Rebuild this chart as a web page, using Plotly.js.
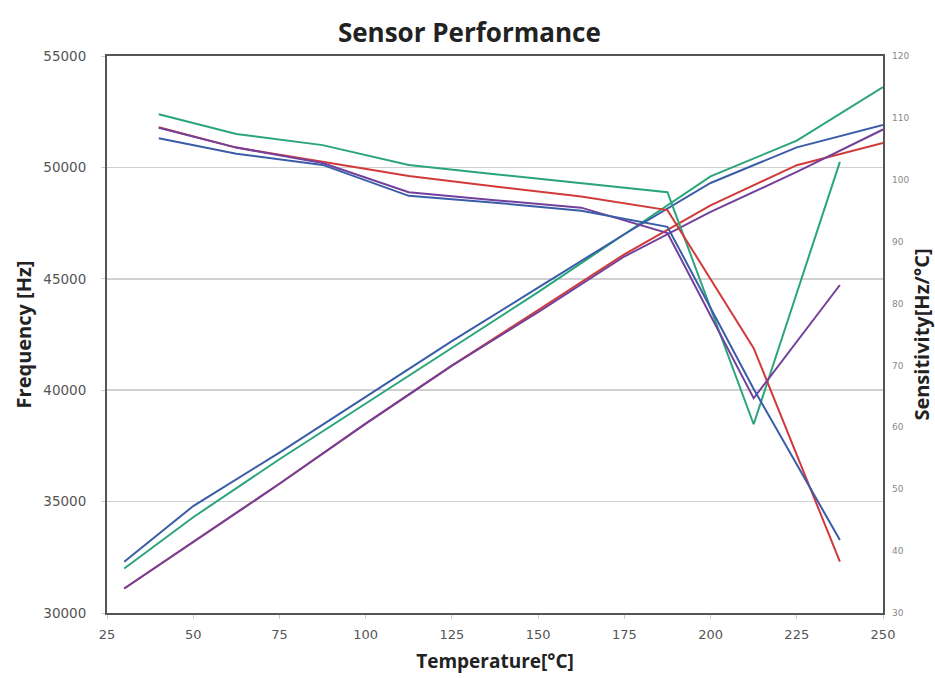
<!DOCTYPE html>
<html>
<head>
<meta charset="utf-8">
<script src="https://cdn.plot.ly/plotly-3.0.1.min.js"></script>
<style>html,body{margin:0;padding:0;background:#fff;}#chart{width:935px;height:678px;}</style>
</head>
<body>
<div id="chart"></div>
<script>
// Frequency (left axis) vs temperature
var tempFreq = [30, 50, 75, 100, 125, 150, 175, 200, 225, 250];
var freqBlue   = [32300, 34800, 37200, 39700, 42200, 44600, 47000, 49300, 50900, 51900];
var freqGreen  = [32000, 34300, 36900, 39400, 41900, 44400, 47000, 49600, 51200, 53600];
var freqPurple = [31100, 33200, 35800, 38500, 41100, 43500, 46000, 48000, 49800, 51700];
var freqRed    = [31100, 33200, 35800, 38500, 41100, 43600, 46100, 48300, 50100, 51100];

// Sensitivity (right axis) vs temperature
var tempSens = [40, 62.5, 87.5, 112.5, 137.5, 162.5, 187.5, 212.5, 237.5];
var sensGreen  = [110.6, 107.4, 105.6, 102.4, 100.9, 99.5, 98.0, 60.5, 102.9];
var sensRed    = [108.5, 105.2, 102.9, 100.6, 98.9, 97.3, 95.1, 72.8, 38.3];
var sensPurple = [108.4, 105.2, 102.7, 98.0, 96.7, 95.5, 91.4, 64.7, 83.0];
var sensBlue   = [106.7, 104.2, 102.4, 97.4, 96.3, 95.0, 92.4, 66.2, 41.8];

var colBlue = '#3a5da8', colGreen = '#2aa57a', colRed = '#d23a3a', colPurple = '#73409c';

function tr(x, y, c, axis) {
  return {x: x, y: y, type: 'scatter', mode: 'lines', yaxis: axis,
          line: {color: c, width: 2}, hoverinfo: 'x+y', showlegend: false};
}

var data = [
  tr(tempFreq, freqRed, colRed, 'y'),
  tr(tempFreq, freqPurple, colPurple, 'y'),
  tr(tempFreq, freqGreen, colGreen, 'y'),
  tr(tempFreq, freqBlue, colBlue, 'y'),
  tr(tempSens, sensGreen, colGreen, 'y2'),
  tr(tempSens, sensRed, colRed, 'y2'),
  tr(tempSens, sensPurple, colPurple, 'y2'),
  tr(tempSens, sensBlue, colBlue, 'y2')
];

var titleFont = 'Open Sans, sans-serif';
var layout = {
  width: 935, height: 678,
  margin: {l: 107, r: 52, t: 56, b: 65},
  paper_bgcolor: '#fff', plot_bgcolor: '#fff',
  font: {family: 'DejaVu Sans, sans-serif', color: '#444'},
  title: {text: '<b>Sensor Performance</b>', x: 0.502, xref: 'container', y: 0.952, yref: 'container',
          yanchor: 'middle', font: {size: 26, color: '#222', family: titleFont}},
  xaxis: {range: [25, 250], dtick: 25, tick0: 25, showline: true, linecolor: '#555', linewidth: 2,
          mirror: true, showgrid: false, zeroline: false, ticks: 'outside', ticklen: 4, tickcolor: '#ccc',
          ticklabelstandoff: 4, tickfont: {size: 13, color: '#555'},
          title: {text: '<b>Temperature[°C]</b>', font: {size: 19, color: '#222', family: titleFont}, standoff: 14}},
  yaxis: {range: [30000, 55000], dtick: 5000, tickformat: 'd', showline: true, linecolor: '#555', linewidth: 2,
          mirror: true, showgrid: true, gridcolor: '#d0d0d0', gridwidth: 1.5, zeroline: false,
          ticks: 'outside', ticklen: 4, tickcolor: '#ccc', ticklabelstandoff: 12,
          tickfont: {size: 13.5, color: '#555'},
          title: {text: '<b>Frequency [Hz]</b>', font: {size: 20, color: '#222', family: titleFont}, standoff: 6}},
  yaxis2: {overlaying: 'y', side: 'right', range: [30, 120], dtick: 10, showgrid: false, zeroline: false,
           showline: false, ticks: '', ticklabelstandoff: 8, tickfont: {size: 9, color: '#888'},
           title: {text: '<b>Sensitivity[Hz/°C]</b>', font: {size: 20, color: '#222', family: titleFont}, standoff: 6}}
};

Plotly.newPlot('chart', data, layout, {displayModeBar: false, staticPlot: true});
</script>
</body>
</html>
